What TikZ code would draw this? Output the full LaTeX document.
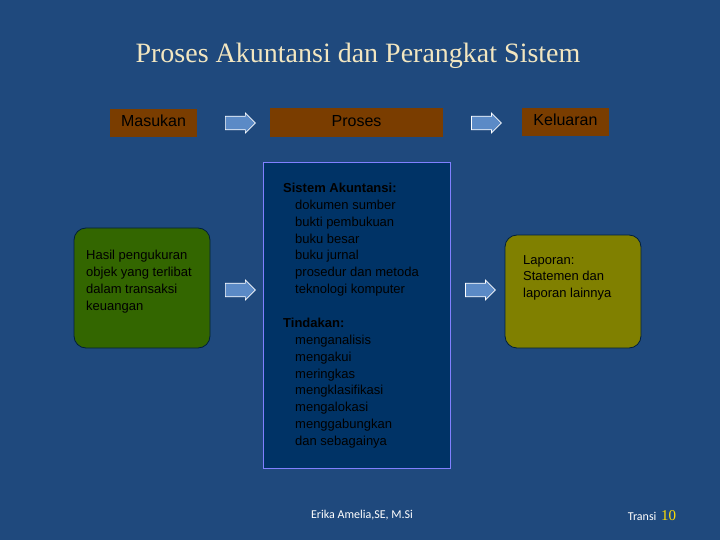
\documentclass[tikz,border=0pt]{standalone}
\usepackage{fontspec}
\setmainfont{Liberation Sans}
\newfontfamily\titlefont{Liberation Serif}
\newfontfamily\footfont{Carlito}
\usetikzlibrary{shapes.arrows}
\definecolor{bg}{HTML}{1F497D}
\definecolor{brn}{HTML}{7A3D00}
\definecolor{grn}{HTML}{336600}
\definecolor{olv}{HTML}{808000}
\definecolor{ctr}{HTML}{003366}
\definecolor{arr}{HTML}{5B8AC6}
\definecolor{ttl}{HTML}{F2E6C0}
\tikzset{
  hdr/.style={fill=brn,text=black,font=\fontsize{16}{18}\selectfont,inner sep=0pt,text height=11.5pt,text depth=3.5pt},
  rbox/.style={draw=ctr!60!black,rounded corners=12pt,line width=0.8pt},
  body/.style={font=\fontsize{13}{16.8}\selectfont,text=black,align=left,anchor=north west,inner sep=0pt},
  blk/.style={single arrow,draw=white,fill=arr,minimum width=20pt,minimum height=30pt,single arrow head extend=3pt,inner xsep=0pt,inner ysep=6pt,line width=0.7pt}
}
\begin{document}
\begin{tikzpicture}[x=1pt,y=-1pt]
\useasboundingbox (0,0) rectangle (720,540);
\fill[bg] (0,0) rectangle (720,540);
\node[font=\titlefont\fontsize{28}{32}\selectfont,text=ttl] (title) at (358,56) {Proses Akuntansi dan Perangkat Sistem};
\node[hdr,minimum width=87pt,minimum height=28pt] (mas) at (153.5,123) {Masukan};
\node[hdr,minimum width=173pt,minimum height=29pt] (pro) at (356.5,122.5) {Proses};
\node[hdr,minimum width=87pt,minimum height=28pt] (kel) at (565.5,122) {Keluaran};
\node[blk] (a1) at (237,123) {};
\node[blk] (a2) at (483,123) {};
\node[blk] (a3) at (237,290) {};
\node[blk] (a4) at (477,290) {};
\draw[rbox,fill=grn] (74,228) rectangle (210,348);
\node[body] (inp) at (86,250) {Hasil pengukuran\\objek yang terlibat\\dalam transaksi\\keuangan};
\draw[fill=ctr,draw=blue!50!white,line width=0.8pt] (263,162) rectangle (450,468);
\node[body] (sa) at (283,183) {\textbf{Sistem Akuntansi:}\\\hspace*{12pt}dokumen sumber\\\hspace*{12pt}bukti pembukuan\\\hspace*{12pt}buku besar\\\hspace*{12pt}buku jurnal\\\hspace*{12pt}prosedur dan metoda\\\hspace*{12pt}teknologi komputer};
\node[body] (ti) at (283,318) {\textbf{Tindakan:}\\\hspace*{12pt}menganalisis\\\hspace*{12pt}mengakui\\\hspace*{12pt}meringkas\\\hspace*{12pt}mengklasifikasi\\\hspace*{12pt}mengalokasi\\\hspace*{12pt}menggabungkan\\\hspace*{12pt}dan sebagainya};
\draw[rbox,fill=olv] (505,235) rectangle (641,348);
\node[body] (out) at (523,255) {Laporan:\\Statemen dan\\laporan lainnya};
\node[font=\footfont\fontsize{12}{14}\selectfont,text=white] (auth) at (362,515) {Erika Amelia,SE, M.Si};
\node[font=\footfont\fontsize{12}{14}\selectfont,text=white,anchor=east] (tr) at (660,516) {Transi};
\node[font=\titlefont\fontsize{15}{16}\selectfont,text=yellow!80!orange,anchor=west,inner sep=1pt] (num) at (tr.east) {10};
\end{tikzpicture}
\end{document}
